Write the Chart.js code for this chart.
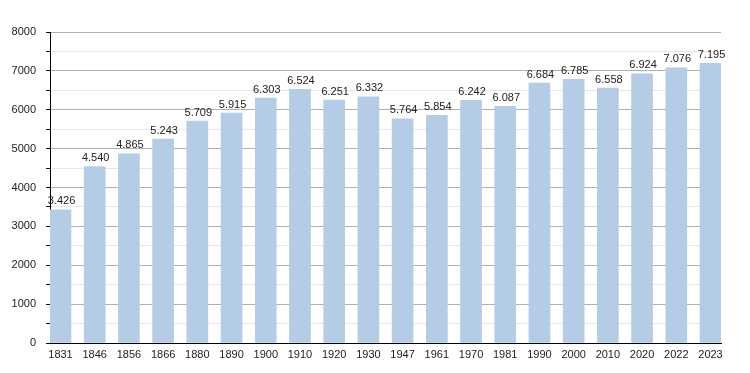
<!DOCTYPE html>
<html>
<head>
<meta charset="utf-8">
<script src="https://cdn.jsdelivr.net/npm/chart.js@4"></script>
<style>
html,body{margin:0;padding:0;background:#fff;}
canvas{display:block;}
</style>
</head>
<body>
<canvas id="c" width="750" height="373"></canvas>
<script>
const years = ["1831","1846","1856","1866","1880","1890","1900","1910","1920","1930","1947","1961","1970","1981","1990","2000","2010","2020","2022","2023"];
const population = [3426,4540,4865,5243,5709,5915,6303,6524,6251,6332,5764,5854,6242,6087,6684,6785,6558,6924,7076,7195];
const yTicks = [0,1000,2000,3000,4000,5000,6000,7000,8000];

const fmt = v => String(v).replace(/\B(?=(\d{3})+(?!\d))/g, '.');
const FONT = "'Liberation Sans', Arial, Helvetica, sans-serif";

const labelPlugin = {
  id: 'valLabels',
  afterDatasetsDraw(chart) {
    const ctx = chart.ctx;
    const meta = chart.getDatasetMeta(0);
    ctx.save();
    ctx.font = "11px " + FONT;
    ctx.fillStyle = '#222';
    ctx.textAlign = 'center';
    ctx.textBaseline = 'bottom';
    meta.data.forEach((bar, i) => {
      ctx.fillText(fmt(population[i]), bar.x + 1, bar.y - 3);
    });
    ctx.restore();
  }
};

new Chart(document.getElementById('c'), {
  type: 'bar',
  data: {
    datasets: [{
      data: population.map((v, i) => ({x: i, y: v})),
      backgroundColor: '#b4cce6',
      borderWidth: 0,
      barThickness: 21,
      grouped: false
    }]
  },
  options: {
    responsive: false,
    animation: false,
    devicePixelRatio: 1,
    layout: {padding: {top: 32, right: 29, left: 0, bottom: 0}},
    plugins: {legend: {display: false}, tooltip: {enabled: false}},
    scales: {
      x: {
        type: 'linear',
        offset: false,
        min: -0.307,
        max: years.length - 1 + 0.307,
        afterBuildTicks: s => { s.ticks = years.map((_, i) => ({value: i})); },
        afterFit: s => { s.height = 30; },
        grid: {color: 'transparent', drawTicks: false, offset: false},
        border: {display: true, color: '#000', width: 1},
        ticks: {
          callback: (v) => years[Math.round(v)],
          font: {size: 11, family: FONT},
          color: '#222',
          padding: 5,
          maxRotation: 0,
          autoSkip: false
        }
      },
      y: {
        min: 0,
        max: 8000,
        afterBuildTicks: s => {
          const t = [];
          for (let v = 0; v <= 8000; v += 500) t.push({value: v});
          s.ticks = t;
        },
        afterFit: s => { s.width = 50; },
        grid: {
          color: c => (c.tick && c.tick.value % 1000 === 0) ? '#b0b0b0' : '#e6e6e6',
          tickColor: '#000',
          tickLength: 4
        },
        border: {display: true, color: '#000', width: 1},
        ticks: {
          callback: v => yTicks.includes(v) ? String(v) : '',
          font: {size: 11, family: FONT},
          color: '#222',
          padding: 10
        }
      }
    }
  },
  plugins: [labelPlugin]
});
</script>
</body>
</html>
